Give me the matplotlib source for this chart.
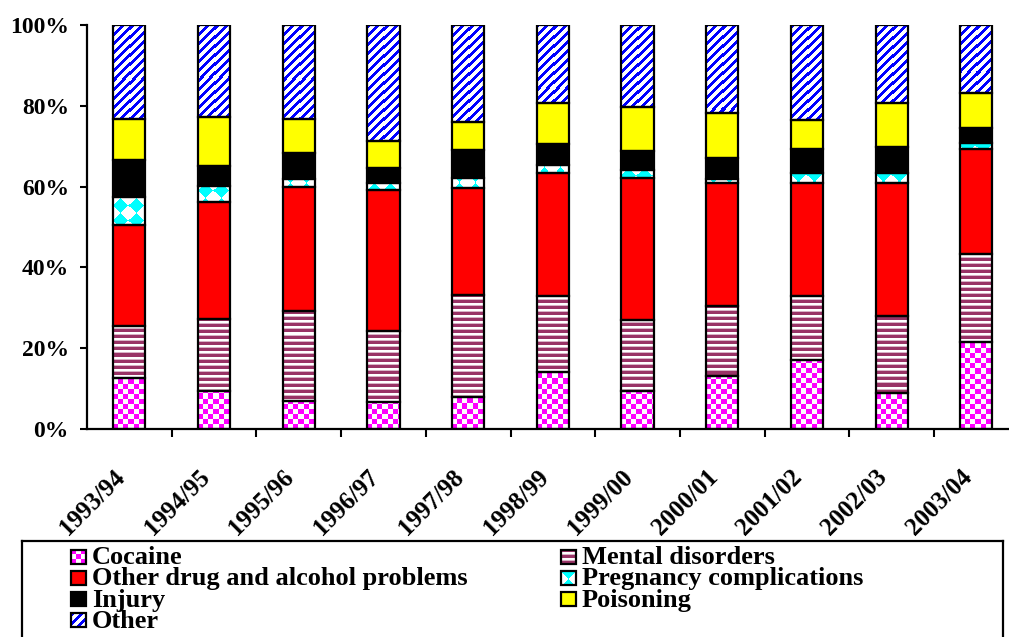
import numpy as np
import matplotlib
matplotlib.use("Agg")
import matplotlib.pyplot as plt
from matplotlib.patches import Rectangle

# Share of cases by category (%)
years = ["1993/94", "1994/95", "1995/96", "1996/97", "1997/98", "1998/99",
         "1999/00", "2000/01", "2001/02", "2002/03", "2003/04"]
cocaine = [12.6, 9.5, 6.9, 6.6, 8.0, 14.2, 9.3, 13.0, 17.1, 8.8, 21.6]
mental = [12.9, 17.7, 22.4, 17.7, 25.2, 18.6, 17.7, 17.5, 15.7, 19.2, 21.6]
other_drug = [25.0, 29.1, 30.7, 34.9, 26.4, 30.5, 35.2, 30.5, 28.0, 32.8, 26.0]
pregnancy = [6.9, 3.9, 1.8, 1.8, 2.6, 2.0, 1.9, 0.8, 2.5, 2.5, 1.7]
injury = [9.2, 5.0, 6.4, 3.5, 6.9, 5.2, 4.6, 5.2, 6.0, 6.6, 3.6]
poisoning = [10.1, 12.0, 8.5, 6.9, 7.0, 10.1, 11.1, 11.1, 7.2, 10.9, 8.6]
other = [23.3, 22.8, 23.3, 28.6, 23.9, 19.4, 20.2, 21.9, 23.5, 19.2, 16.9]

labels = ["Cocaine", "Mental disorders", "Other drug and alcohol problems",
          "Pregnancy complications", "Injury", "Poisoning", "Other"]
series = [cocaine, mental, other_drug, pregnancy, injury, poisoning, other]


# --- fill patterns (RGB arrays, one pixel per screen pixel) ---
def checker(w, h, cell=5):
    yy, xx = np.mgrid[0:h, 0:w]
    yy = h - 1 - yy
    img = np.ones((h, w, 3))
    img[((xx // cell) + (yy // cell)) % 2 == 0] = (1, 0, 1)
    return img


def hstripes(w, h, period=6, thick=3):
    yy, xx = np.mgrid[0:h, 0:w]
    yy = h - 1 - yy
    img = np.ones((h, w, 3))
    img[(yy % period) < thick] = (0.6, 0.2, 0.4)
    img[(yy % period) == thick] = (0.85, 0.7, 0.78)
    return img


def diamonds(w, h, period=15):
    yy, xx = np.mgrid[0:h, 0:w]
    u = np.floor((xx + yy) / period)
    v = np.floor((xx - yy) / period)
    img = np.ones((h, w, 3))
    img[(u + v) % 2 == 0] = (0, 1, 1)
    return img


def diagonal(w, h, period=9, thick=4):
    yy, xx = np.mgrid[0:h, 0:w]
    img = np.ones((h, w, 3))
    img[((xx + yy) % period) < thick] = (0, 0, 1)
    return img


styles = [checker, hstripes, "#FF0000", diamonds, "#000000", "#FFFF00", diagonal]

plt.rcParams["font.family"] = ["Liberation Serif", "DejaVu Serif"]
plt.rcParams["font.weight"] = "bold"

W, H = 1009, 637
fig = plt.figure(figsize=(W / 100, H / 100), dpi=100)
cat_w = 84.7
ax = fig.add_axes([87 / W, (H - 429) / H, 11 * cat_w / W, 404 / H])

x = np.arange(len(years))
bar_w = 0.38
px_w = int(round(bar_w * cat_w))
bottom = np.zeros(len(years))
for vals, style in zip(series, styles):
    vals = np.array(vals)
    if callable(style):
        bars = ax.bar(x, vals, bar_w, bottom=bottom, color="white", linewidth=0, zorder=1)
        for xi, rect in zip(x, bars.patches):
            im = ax.imshow(style(px_w, 404), extent=(xi - bar_w / 2, xi + bar_w / 2, 0, 100),
                           aspect="auto", interpolation="nearest", zorder=2)
            im.set_clip_path(rect)
    else:
        ax.bar(x, vals, bar_w, bottom=bottom, color=style, linewidth=0, zorder=1)
    ax.bar(x, vals, bar_w, bottom=bottom, fill=False, edgecolor="black", linewidth=1.6, zorder=3)
    bottom += vals

ax.set_xlim(-0.5, len(years) - 0.5)
ax.set_ylim(0, 100)
ax.set_yticks(range(0, 101, 20))
ax.set_yticklabels([f"{v}%" for v in range(0, 101, 20)], fontsize=17, fontweight="bold")
ax.set_xticks(x)
ax.set_xticklabels(years, rotation=45, ha="right", fontsize=18, fontweight="bold")
ax.set_xticks(x[:-1] + 0.5, minor=True)
ax.tick_params(axis="x", which="major", length=0, pad=26)
ax.tick_params(axis="x", which="minor", length=6, width=1.5, direction="out")
ax.tick_params(axis="y", length=5, width=1.5, direction="out", pad=8)
ax.spines[["top", "right"]].set_visible(False)
ax.spines[["left", "bottom"]].set_linewidth(1.6)

# --- legend box (drawn in pixel coordinates) ---
lax = fig.add_axes([22 / W, 0, (1003 - 22) / W, (H - 541) / H])
lax.set_xticks([])
lax.set_yticks([])
lax.spines["bottom"].set_visible(False)
for s in ["top", "left", "right"]:
    lax.spines[s].set_linewidth(1.6)

order = [0, 2, 4, 6, 1, 3, 5]
rows_y = [557, 578, 599, 620]
for k, idx in enumerate(order):
    col, row = divmod(k, 4)
    sx = 71 if col == 0 else 561
    sy = rows_y[row]
    style = styles[idx]
    if callable(style):
        lax.add_patch(Rectangle((sx, sy - 7), 15, 14, facecolor="white", linewidth=0))
        lax.imshow(style(15, 14), extent=(sx, sx + 15, sy + 7, sy - 7),
                   aspect="auto", interpolation="nearest", zorder=2)
    else:
        lax.add_patch(Rectangle((sx, sy - 7), 15, 14, facecolor=style, linewidth=0))
    lax.add_patch(Rectangle((sx, sy - 7), 15, 14, fill=False, edgecolor="black",
                            linewidth=1.6, zorder=3))
    lax.text(sx + 21, sy + 1, labels[idx], fontsize=19, fontweight="bold", va="center", ha="left")
lax.set_xlim(22, 1003)
lax.set_ylim(H, 541)

fig.savefig("out.png", dpi=100)
